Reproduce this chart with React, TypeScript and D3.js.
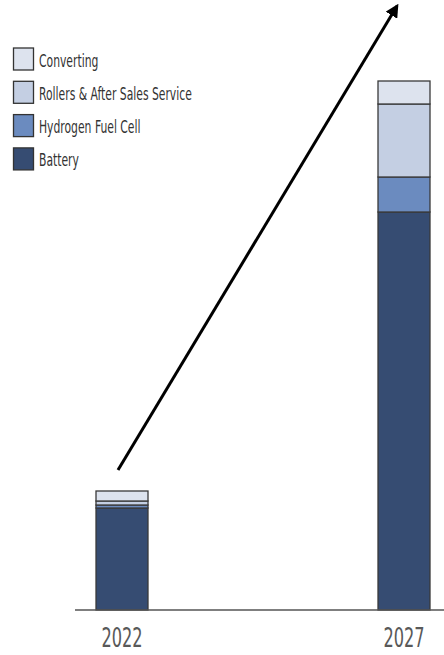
import React from "react";
import * as d3 from "d3";

// Market size by segment (stacked bottom to top)
const years = ["2022", "2027"];
const segments = ["Battery", "Hydrogen Fuel Cell", "Rollers & After Sales Service", "Converting"];
const battery = [10.2, 39.8];
const hydrogen = [0.3, 3.5];
const rollers = [0.4, 7.3];
const converting = [1.0, 2.3];
const legendOrder = ["Converting", "Rollers & After Sales Service", "Hydrogen Fuel Cell", "Battery"];

const colors: Record<string, string> = {
  Battery: "#364c72",
  "Hydrogen Fuel Cell": "#6b8bbf",
  "Rollers & After Sales Service": "#c4cfe3",
  Converting: "#dde3ee",
};

const W = 444;
const H = 655;
const FONT = "'Liberation Sans Narrow', 'DejaVu Sans Condensed', 'Liberation Sans', sans-serif";

export default function App() {
  const rows = years.map((year, i) => ({
    year,
    Battery: battery[i],
    "Hydrogen Fuel Cell": hydrogen[i],
    "Rollers & After Sales Service": rollers[i],
    Converting: converting[i],
  }));

  const stacked = d3.stack<any>().keys(segments)(rows);

  const x = d3.scalePoint<string>().domain(years).range([122, 404]);
  const barW = 52;
  const y = d3.scaleLinear().domain([0, 53]).range([610, 80]);

  const arrowStart = [118, 470];
  const arrowEnd = [397, 6];

  return (
    <svg
      width={W}
      height={H}
      style={{ position: "absolute", left: 0, top: 0, background: "#fff" }}
    >
      <defs>
        <marker
          id="head"
          viewBox="0 0 10 10"
          refX="8"
          refY="5"
          markerWidth="4.5"
          markerHeight="4.5"
          orient="auto"
        >
          <path d="M0,0 L10,5 L0,10 z" fill="#000" />
        </marker>
      </defs>

      {/* growth arrow */}
      <line
        x1={arrowStart[0]}
        y1={arrowStart[1]}
        x2={arrowEnd[0]}
        y2={arrowEnd[1]}
        stroke="#000"
        strokeWidth={3}
        markerEnd="url(#head)"
      />

      {/* stacked bars */}
      {stacked.map((layer) => (
        <g key={layer.key}>
          {layer.map((d, i) => (
            <rect
              key={i}
              x={(x(years[i]) as number) - barW / 2}
              y={y(d[1])}
              width={barW}
              height={y(d[0]) - y(d[1])}
              fill={colors[layer.key]}
              stroke="#3a3a3a"
              strokeWidth={1.3}
            />
          ))}
        </g>
      ))}

      {/* baseline */}
      <line x1={75} x2={444} y1={y(0)} y2={y(0)} stroke="#555" strokeWidth={1.5} />

      {/* year labels */}
      {years.map((yr) => (
        <text
          key={yr}
          transform={`translate(${x(yr)},647) scale(1,1.45)`}
          textAnchor="middle"
          fontFamily={FONT}
          fontSize={18}
          fill="#595959"
        >
          {yr}
        </text>
      ))}

      {/* legend */}
      {legendOrder.map((name, i) => {
        const top = 48 + i * 33.3;
        return (
          <g key={name}>
            <rect
              x={13.5}
              y={top}
              width={20}
              height={22}
              fill={colors[name]}
              stroke="#333"
              strokeWidth={1.3}
            />
            <text
              transform={`translate(39,${top + 18.5}) scale(1,1.45)`}
              fontFamily={FONT}
              fontSize={12}
              fill="#333"
            >
              {name}
            </text>
          </g>
        );
      })}
    </svg>
  );
}
